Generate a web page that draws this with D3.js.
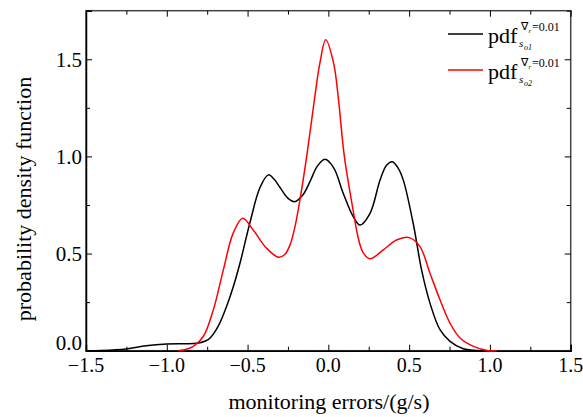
<!DOCTYPE html>
<html>
<head>
<meta charset="utf-8">
<script src="https://cdn.jsdelivr.net/npm/d3@7"></script>
<style>
  body { margin: 0; background: #fff; }
</style>
</head>
<body>
<div id="chart"></div>
<script>
    var width = 583,
        height = 417;

    var serif = "Liberation Serif";

    var margin = {left: 86, right: 12.3, top: 10.7, bottom: 66.3};

    // curve 1 (black)
    var pdf1X = [-1.5, -1.403, -1.25, -1.128, -1.0, -0.893, -0.815, -0.761, -0.73, -0.679, -0.629, -0.588, -0.547, -0.485, -0.423, -0.371, -0.333, -0.299, -0.251, -0.21, -0.159, -0.114, -0.068, -0.021, 0.034, 0.092, 0.154, 0.196, 0.258, 0.32, 0.36, 0.396, 0.432, 0.464, 0.525, 0.577, 0.629, 0.691, 0.753, 0.835, 0.938, 0.992];
    var pdf1Y = [0, 0.001, 0.009, 0.025, 0.034, 0.036, 0.038, 0.05, 0.067, 0.13, 0.23, 0.33, 0.45, 0.66, 0.84, 0.905, 0.88, 0.84, 0.785, 0.767, 0.8, 0.87, 0.95, 0.985, 0.94, 0.81, 0.69, 0.647, 0.707, 0.878, 0.955, 0.973, 0.94, 0.878, 0.656, 0.416, 0.245, 0.108, 0.048, 0.01, 0, 0];

    // curve 2 (red)
    var pdf2X = [-0.929, -0.883, -0.836, -0.774, -0.712, -0.65, -0.589, -0.53, -0.464, -0.382, -0.309, -0.27, -0.237, -0.205, -0.176, -0.134, -0.084, -0.053, -0.016, 0.033, 0.061, 0.099, 0.154, 0.185, 0.215, 0.258, 0.34, 0.422, 0.501, 0.567, 0.629, 0.691, 0.753, 0.815, 0.898, 0.99, 1.042];
    var pdf2Y = [0, 0.006, 0.022, 0.073, 0.21, 0.416, 0.605, 0.682, 0.62, 0.527, 0.481, 0.495, 0.545, 0.645, 0.776, 1.0, 1.306, 1.478, 1.60, 1.478, 1.306, 1.0, 0.72, 0.58, 0.505, 0.473, 0.519, 0.57, 0.582, 0.536, 0.399, 0.262, 0.142, 0.065, 0.022, 0, 0];

    var xTicks = [-1.5, -1.0, -0.5, 0.0, 0.5, 1.0, 1.5];
    var yTicks = [0.0, 0.5, 1.0, 1.5];

    var svg = d3.select("#chart")
        .append("svg")
        .attr("width", width)
        .attr("height", height)
        .attr("font-family", serif);

    var x = d3.scaleLinear().domain([-1.5, 1.5]).range([margin.left, width - margin.right]);
    var y = d3.scaleLinear().domain([0, 1.75]).range([height - margin.bottom, margin.top]);

    var minorX = d3.range(-1.5, 1.51, 0.25);
    var minorY = d3.range(0, 1.76, 0.25);

    function isMajor(d) { return Math.abs(Math.round(d * 2) - d * 2) < 1e-6; }

    // frame
    svg.append("rect")
        .attr("x", x(-1.5)).attr("y", y(1.75))
        .attr("width", x(1.5) - x(-1.5)).attr("height", y(0) - y(1.75))
        .attr("fill", "none").attr("stroke", "#444").attr("stroke-width", 1.5);

    function fmt(d) { return d3.format(".1f")(d); }

    // bottom axis
    var xAxis = svg.append("g")
        .attr("transform", "translate(0," + y(0) + ")")
        .call(d3.axisBottom(x).tickValues(minorX).tickSize(-6).tickFormat(""));
    xAxis.select(".domain").attr("stroke", "#000").attr("stroke-width", 1.5);
    xAxis.selectAll(".tick line").attr("y2", function(d) { return isMajor(d) ? -6 : -4; });

    svg.append("g").selectAll("text")
        .data(xTicks)
        .enter().append("text")
        .attr("x", function(d) { return x(d); })
        .attr("y", y(0) + 21)
        .attr("text-anchor", "middle")
        .attr("font-family", serif)
        .attr("font-size", 20)
        .text(fmt);

    // top axis (mirror ticks)
    var xTop = svg.append("g")
        .attr("transform", "translate(0," + y(1.75) + ")")
        .call(d3.axisTop(x).tickValues(minorX).tickSize(-6).tickFormat(""));
    xTop.select(".domain").remove();
    xTop.selectAll(".tick line").attr("stroke", "#000").attr("y2", function(d) { return isMajor(d) ? 6 : 4; });

    // left axis
    var yAxis = svg.append("g")
        .attr("transform", "translate(" + x(-1.5) + ",0)")
        .call(d3.axisLeft(y).tickValues(minorY).tickSize(-6).tickFormat(""));
    yAxis.select(".domain").attr("stroke", "#000").attr("stroke-width", 1.5);
    yAxis.selectAll(".tick line").attr("x2", function(d) { return isMajor(d) ? 6 : 4; });

    svg.append("g").selectAll("text")
        .data(yTicks)
        .enter().append("text")
        .attr("x", x(-1.5) - 4)
        .attr("y", function(d) { return d === 0 ? y(d) - 1 : y(d) + 7.5; })
        .attr("text-anchor", "end")
        .attr("font-family", serif)
        .attr("font-size", 21)
        .text(fmt);

    // right axis (mirror ticks)
    var yRight = svg.append("g")
        .attr("transform", "translate(" + x(1.5) + ",0)")
        .call(d3.axisRight(y).tickValues(minorY).tickSize(-6).tickFormat(""));
    yRight.select(".domain").remove();
    yRight.selectAll(".tick line").attr("stroke", "#000").attr("x2", function(d) { return isMajor(d) ? -6 : -4; });

    // axis titles
    svg.append("text")
        .attr("x", 329)
        .attr("y", 409)
        .attr("text-anchor", "middle")
        .attr("font-family", serif)
        .attr("font-size", 22)
        .text("monitoring errors/(g/s)");

    svg.append("text")
        .attr("transform", "translate(31,199) rotate(-90)")
        .attr("text-anchor", "middle")
        .attr("font-family", serif)
        .attr("font-size", 22)
        .text("probability density function");

    // curves
    var line = d3.line()
        .x(function(d) { return x(d[0]); })
        .y(function(d) { return y(Math.max(0, d[1])); })
        .curve(d3.curveCatmullRom.alpha(0.5));

    var plot = svg.append("g");
    plot.append("path")
        .datum(d3.zip(pdf1X, pdf1Y))
        .attr("d", line)
        .attr("fill", "none")
        .attr("stroke", "#000")
        .attr("stroke-width", 1.5);

    plot.append("path")
        .datum(d3.zip(pdf2X, pdf2Y))
        .attr("d", line)
        .attr("fill", "none")
        .attr("stroke", "#ff0000")
        .attr("stroke-width", 1.5);

    // legend
    var legend = [
        {color: "#000", sub: "o1", y: 34},
        {color: "#ff0000", sub: "o2", y: 70}
    ];

    var lg = svg.append("g").selectAll("g")
        .data(legend)
        .enter().append("g")
        .attr("transform", function(d) { return "translate(0," + d.y + ")"; });

    lg.append("line")
        .attr("x1", 448).attr("x2", 483)
        .attr("stroke", function(d) { return d.color; })
        .attr("stroke-width", 1.5);

    lg.append("text")
        .attr("x", 488).attr("y", 9)
        .attr("font-family", serif)
        .attr("font-size", 22)
        .text("pdf");

    lg.append("text")
        .attr("x", 519).attr("y", 12.5)
        .attr("font-family", serif)
        .attr("font-size", 11)
        .attr("font-style", "italic")
        .text("s");

    lg.append("text")
        .attr("x", 524).attr("y", 15.5)
        .attr("font-family", serif)
        .attr("font-size", 8)
        .attr("font-style", "italic")
        .text(function(d) { return d.sub; });

    lg.append("text")
        .attr("x", 521).attr("y", -4.5)
        .attr("font-family", serif)
        .attr("font-size", 11)
        .text("\u2207");

    lg.append("text")
        .attr("x", 528.5).attr("y", -1)
        .attr("font-family", serif)
        .attr("font-size", 7)
        .attr("font-style", "italic")
        .text("r");

    lg.append("text")
        .attr("x", 532).attr("y", -3.5)
        .attr("font-family", serif)
        .attr("font-size", 12)
        .text("=0.01");
</script>
</body>
</html>
